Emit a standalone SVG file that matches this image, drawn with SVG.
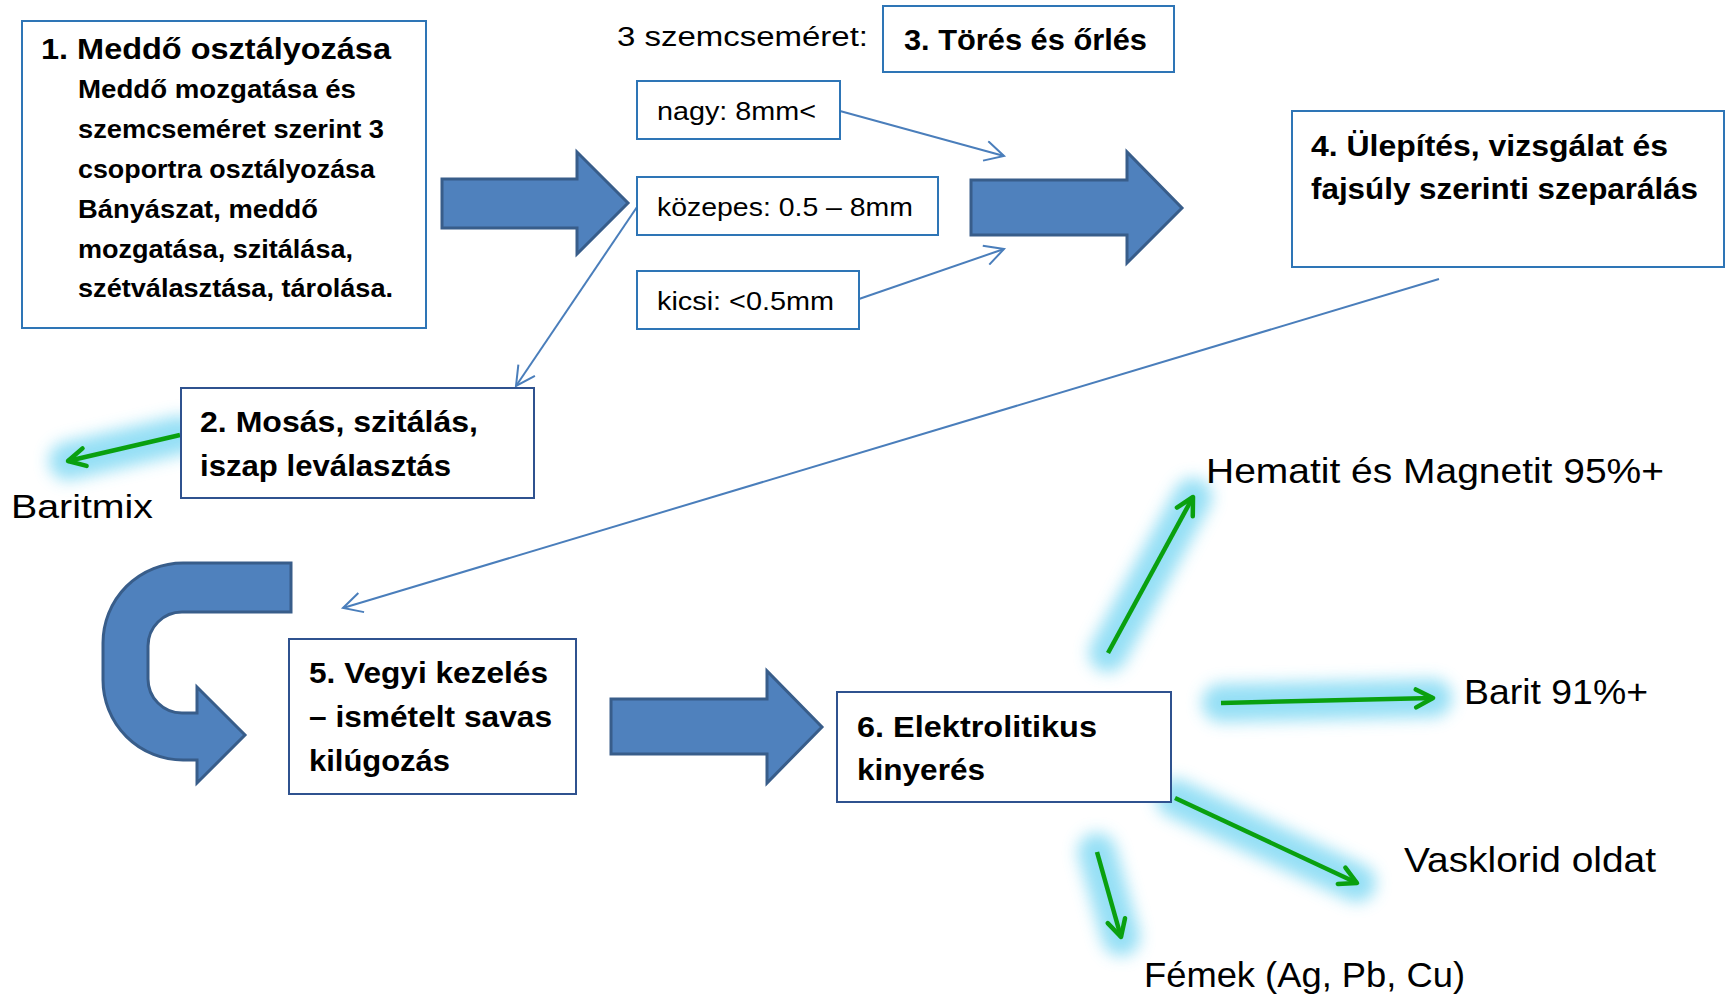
<svg xmlns="http://www.w3.org/2000/svg" width="1728" height="996" viewBox="0 0 1728 996">
<style>
text{font-family:"Liberation Sans",Arial,sans-serif;fill:#000}
.b{font-weight:bold}
.box{fill:#fff;stroke:#2E75B6;stroke-width:2}
.box2{fill:#fff;stroke:#2F528F;stroke-width:2}
.big{fill:#4F81BD;stroke:#385D8A;stroke-width:3;stroke-linejoin:miter}
.thin{fill:none;stroke:#4A7EBB;stroke-width:2}
.glow{fill:none;stroke:#8ADCF4;stroke-width:38;stroke-linecap:round}
.grn{fill:none;stroke:#0AA00F;stroke-width:4.5}
</style>
<defs>
<filter id="blur" filterUnits="userSpaceOnUse" x="0" y="0" width="1728" height="996"><feGaussianBlur stdDeviation="8"/></filter>
<marker id="ob" markerUnits="userSpaceOnUse" viewBox="0 0 22 22" refX="20" refY="11" markerWidth="22" markerHeight="22" orient="auto"><path d="M1,1 L20,11 L1,21" fill="none" stroke="#4A7EBB" stroke-width="2"/></marker>
<marker id="og" markerUnits="userSpaceOnUse" viewBox="0 0 24 24" refX="20" refY="12" markerWidth="24" markerHeight="24" orient="auto"><path d="M3,3 L20,12 L3,21" fill="none" stroke="#0AA00F" stroke-width="4.5" stroke-linecap="round" stroke-linejoin="round"/></marker>
</defs>
<rect width="1728" height="996" fill="#fff"/>

<g id="connectors">
<path class="big" d="M442,179 H577 V152 L628,203 L577,254 V228 H442 Z"/>
<path class="big" d="M971,180 H1127 V152 L1182,208 L1127,263 V235 H971 Z"/>
<path class="big" d="M611,699 H767 V671 L822,727 L767,783 V754 H611 Z"/>
<path class="big" d="M291,563 H183 A80,80 0 0 0 103,643 V680 A80,80 0 0 0 183,760 H197 V783 L245,735 L197,687 V713 H182 A34,34 0 0 1 148,679 V646 A34,34 0 0 1 182,612 H291 Z"/>
<line class="thin" x1="840" y1="111" x2="1004" y2="156" marker-end="url(#ob)"/>
<line class="thin" x1="859" y1="299" x2="1004" y2="249" marker-end="url(#ob)"/>
<line class="thin" x1="637" y1="207" x2="516" y2="386" marker-end="url(#ob)"/>
<line class="thin" x1="1439" y1="279" x2="343" y2="608" marker-end="url(#ob)"/>
<g id="glows" filter="url(#blur)" opacity="0.9">
<line class="glow" x1="180" y1="435" x2="68" y2="461"/>
<line class="glow" x1="1108" y1="653" x2="1193" y2="497"/>
<line class="glow" x1="1221" y1="703" x2="1433" y2="698"/>
<line class="glow" x1="1175" y1="798" x2="1357" y2="883"/>
<line class="glow" x1="1097" y1="852" x2="1121" y2="937"/>
</g>
<line class="grn" x1="180" y1="435" x2="68" y2="461" marker-end="url(#og)"/>
<line class="grn" x1="1108" y1="653" x2="1193" y2="497" marker-end="url(#og)"/>
<line class="grn" x1="1221" y1="703" x2="1433" y2="698" marker-end="url(#og)"/>
<line class="grn" x1="1175" y1="798" x2="1357" y2="883" marker-end="url(#og)"/>
<line class="grn" x1="1097" y1="852" x2="1121" y2="937" marker-end="url(#og)"/>
</g>

<g id="n1">
<rect class="box" x="22" y="21" width="404" height="307"/>
<text class="b" x="41" y="59" font-size="29" textLength="350" lengthAdjust="spacingAndGlyphs">1. Meddő osztályozása</text>
<text class="b" x="78" y="98" font-size="26" textLength="278" lengthAdjust="spacingAndGlyphs">Meddő mozgatása és</text>
<text class="b" x="78" y="138" font-size="26" textLength="306" lengthAdjust="spacingAndGlyphs">szemcseméret szerint 3</text>
<text class="b" x="78" y="178" font-size="26" textLength="297" lengthAdjust="spacingAndGlyphs">csoportra osztályozása</text>
<text class="b" x="78" y="218" font-size="26" textLength="240" lengthAdjust="spacingAndGlyphs">Bányászat, meddő</text>
<text class="b" x="78" y="258" font-size="26" textLength="275" lengthAdjust="spacingAndGlyphs">mozgatása, szitálása,</text>
<text class="b" x="78" y="297" font-size="26" textLength="315" lengthAdjust="spacingAndGlyphs">szétválasztása, tárolása.</text>
</g>

<g id="label-size">
<text x="617" y="46" font-size="27" textLength="251" lengthAdjust="spacingAndGlyphs">3 szemcseméret:</text>
</g>

<g id="n3">
<rect class="box" x="883" y="6" width="291" height="66"/>
<text class="b" x="904" y="50" font-size="30" textLength="243" lengthAdjust="spacingAndGlyphs">3. Törés és őrlés</text>
</g>

<g id="s-nagy">
<rect class="box" x="637" y="81" width="203" height="58"/>
<text x="657" y="120" font-size="25" textLength="159" lengthAdjust="spacingAndGlyphs">nagy: 8mm&lt;</text>
</g>
<g id="s-kozepes">
<rect class="box" x="637" y="177" width="301" height="58"/>
<text x="657" y="216" font-size="25" textLength="256" lengthAdjust="spacingAndGlyphs">közepes: 0.5 – 8mm</text>
</g>
<g id="s-kicsi">
<rect class="box" x="637" y="271" width="222" height="58"/>
<text x="657" y="310" font-size="25" textLength="177" lengthAdjust="spacingAndGlyphs">kicsi: &lt;0.5mm</text>
</g>

<g id="n4">
<rect class="box" x="1292" y="111" width="432" height="156"/>
<text class="b" x="1311" y="156" font-size="30" textLength="357" lengthAdjust="spacingAndGlyphs">4. Ülepítés, vizsgálat és</text>
<text class="b" x="1311" y="199" font-size="30" textLength="387" lengthAdjust="spacingAndGlyphs">fajsúly szerinti szeparálás</text>
</g>

<g id="n2">
<rect class="box2" x="181" y="388" width="353" height="110"/>
<text class="b" x="200" y="432" font-size="30" textLength="278" lengthAdjust="spacingAndGlyphs">2. Mosás, szitálás,</text>
<text class="b" x="200" y="476" font-size="30" textLength="251" lengthAdjust="spacingAndGlyphs">iszap leválasztás</text>
</g>

<g id="o-baritmix">
<text x="11" y="518" font-size="34" textLength="142" lengthAdjust="spacingAndGlyphs">Baritmix</text>
</g>

<g id="n5">
<rect class="box2" x="289" y="639" width="287" height="155"/>
<text class="b" x="309" y="683" font-size="30" textLength="239" lengthAdjust="spacingAndGlyphs">5. Vegyi kezelés</text>
<text class="b" x="309" y="727" font-size="30" textLength="243" lengthAdjust="spacingAndGlyphs">– ismételt savas</text>
<text class="b" x="309" y="771" font-size="30" textLength="141" lengthAdjust="spacingAndGlyphs">kilúgozás</text>
</g>

<g id="n6">
<rect class="box2" x="837" y="692" width="334" height="110"/>
<text class="b" x="857" y="737" font-size="30" textLength="240" lengthAdjust="spacingAndGlyphs">6. Elektrolitikus</text>
<text class="b" x="857" y="780" font-size="30" textLength="128" lengthAdjust="spacingAndGlyphs">kinyerés</text>
</g>

<g id="o-hematit">
<text x="1206" y="483" font-size="35" textLength="458" lengthAdjust="spacingAndGlyphs">Hematit és Magnetit 95%+</text>
</g>
<g id="o-barit">
<text x="1464" y="704" font-size="35" textLength="184" lengthAdjust="spacingAndGlyphs">Barit 91%+</text>
</g>
<g id="o-vasklorid">
<text x="1404" y="872" font-size="35" textLength="252" lengthAdjust="spacingAndGlyphs">Vasklorid oldat</text>
</g>
<g id="o-femek">
<text x="1144" y="987" font-size="35" textLength="321" lengthAdjust="spacingAndGlyphs">Fémek (Ag, Pb, Cu)</text>
</g>
</svg>
